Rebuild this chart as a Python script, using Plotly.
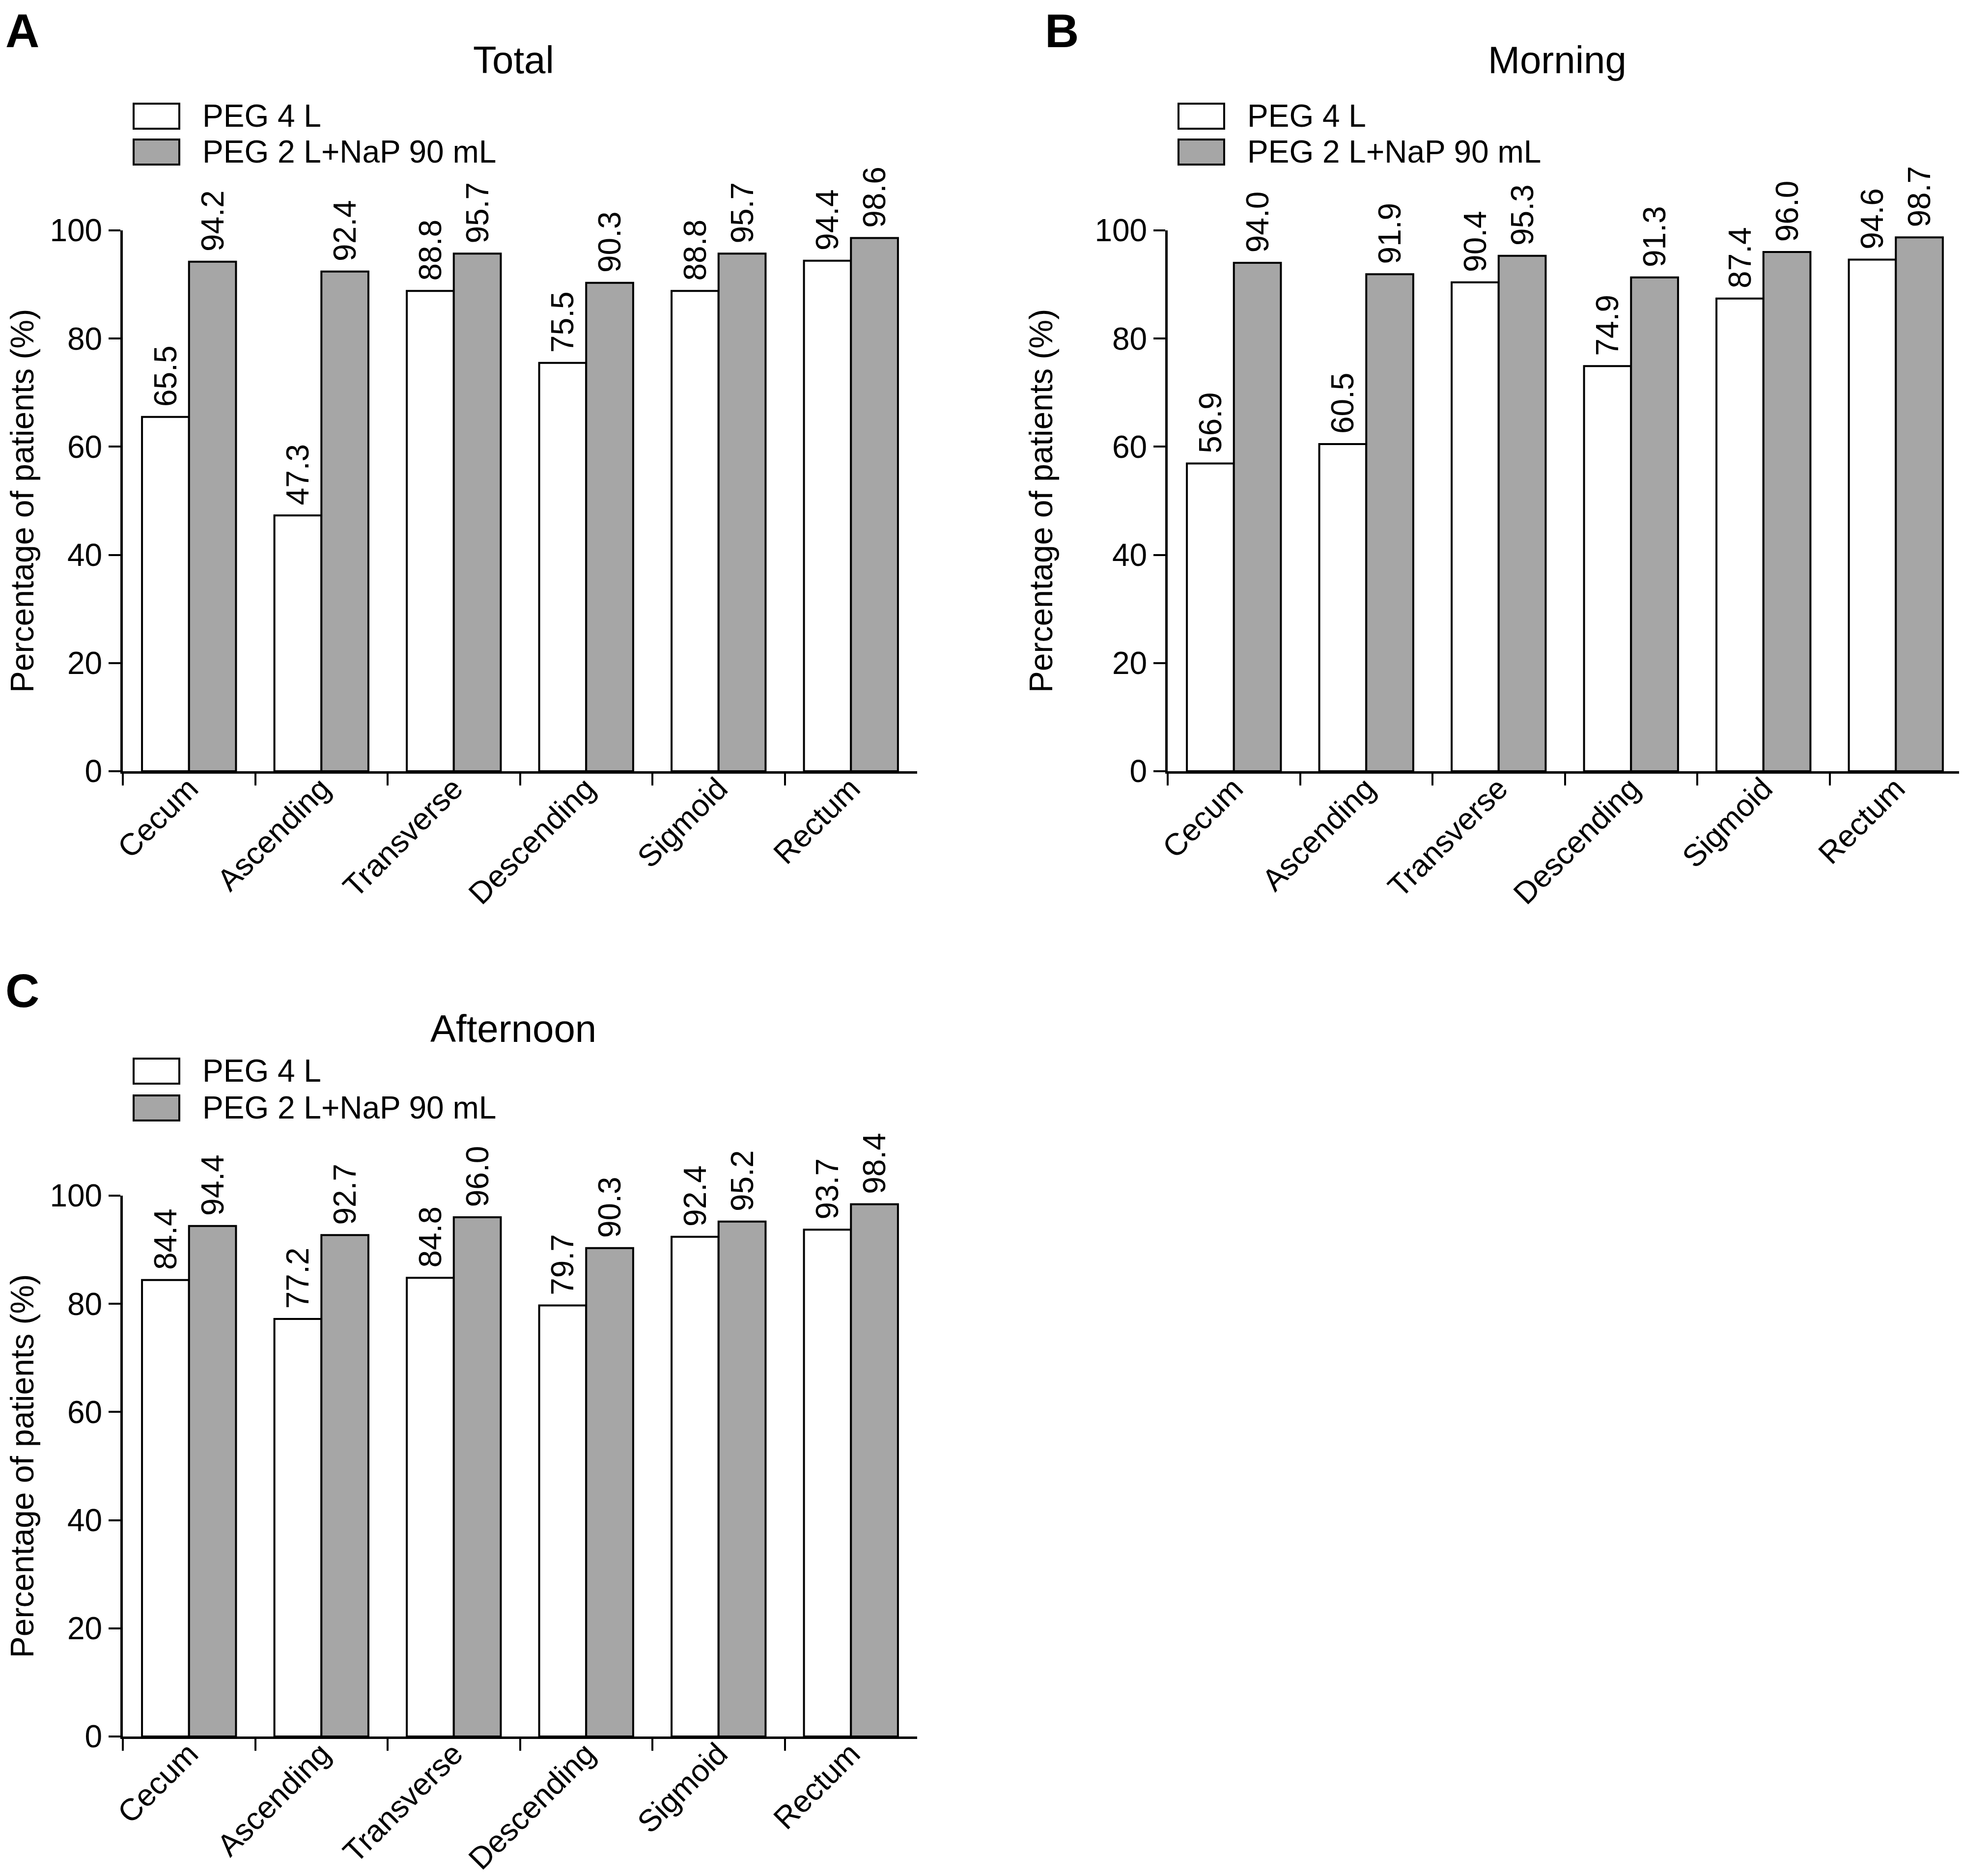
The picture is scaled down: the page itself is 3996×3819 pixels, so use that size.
import plotly.graph_objects as go

categories = ["Cecum", "Ascending", "Transverse", "Descending", "Sigmoid", "Rectum"]
series_names = ["PEG 4 L", "PEG 2 L+NaP 90 mL"]

total_peg4 = [65.5, 47.3, 88.8, 75.5, 88.8, 94.4]
total_combo = [94.2, 92.4, 95.7, 90.3, 95.7, 98.6]
morning_peg4 = [56.9, 60.5, 90.4, 74.9, 87.4, 94.6]
morning_combo = [94.0, 91.9, 95.3, 91.3, 96.0, 98.7]
afternoon_peg4 = [84.4, 77.2, 84.8, 79.7, 92.4, 93.7]
afternoon_combo = [94.4, 92.7, 96.0, 90.3, 95.2, 98.4]

panel_titles = ["Total", "Morning", "Afternoon"]
panel_letters = ["A", "B", "C"]
y_ticks = [0, 20, 40, 60, 80, 100]
y_title = "Percentage of patients (%)"

W, H = 3996, 3819
PAGE_OFFSET = 8  # default body margin of the html page
FONT = "Liberation Sans, Arial, sans-serif"
FS = 64
BAR_COLORS = ["#ffffff", "#a6a6a6"]


def px_x(v):
    return (v - PAGE_OFFSET) / W


def px_y(v):
    return 1 - (v - PAGE_OFFSET) / H


# panel placement in screen pixels: (left, right, top, bottom)
panels = [
    dict(box=(250, 1867, 469, 1570), legend_x=272, legend_y=(211, 284), title=(1045, 122), letter=(10, 8)),
    dict(box=(2377, 3994, 469, 1570), legend_x=2399, legend_y=(211, 284), title=(3170, 122), letter=(2126, 8)),
    dict(box=(250, 1867, 2434, 3535), legend_x=272, legend_y=(2155, 2230), title=(1045, 2094), letter=(10, 1962)),
]
data = [
    (total_peg4, total_combo),
    (morning_peg4, morning_combo),
    (afternoon_peg4, afternoon_combo),
]

fig = go.Figure()
shapes = []
annotations = []

for i, (p, vals) in enumerate(zip(panels, data)):
    n = "" if i == 0 else str(i + 1)
    xa, ya = "x" + n, "y" + n
    for name, v, col in zip(series_names, vals, BAR_COLORS):
        fig.add_trace(go.Bar(
            x=categories, y=v, name=name,
            xaxis=xa, yaxis=ya,
            marker=dict(color=col, line=dict(color="black", width=4)),
            # leading nbsp keeps a small gap between bar top and rotated label
            text=["\u00a0" + f"{t:.1f}" for t in v],
            textposition="outside", textangle=-90,
            textfont=dict(family=FONT, size=FS, color="black"),
            cliponaxis=False, constraintext="none",
            showlegend=False,
        ))

    l, r, t, b = p["box"]
    fig.update_layout(**{
        "xaxis" + n: dict(
            domain=[px_x(l), px_x(r)], anchor=ya,
            showline=True, linecolor="black", linewidth=5,
            ticks="outside", ticklen=24, tickwidth=4, tickcolor="black",
            tickson="boundaries", tickangle=-45, ticklabelstandoff=-32,
            tickfont=dict(family=FONT, size=63, color="black"),
            showgrid=False, zeroline=False, automargin=False,
        ),
        "yaxis" + n: dict(
            domain=[px_y(b), px_y(t)], anchor=xa,
            range=[0, 100], tickvals=y_ticks,
            showline=True, linecolor="black", linewidth=5,
            ticks="outside", ticklen=24, tickwidth=4, tickcolor="black",
            tickfont=dict(family=FONT, size=FS, color="black"),
            title=dict(text=y_title, font=dict(family=FONT, size=66, color="black"), standoff=66),
            showgrid=False, zeroline=False, automargin=False,
        ),
    })

    # panel title
    tx, ty = p["title"]
    annotations.append(dict(
        text=panel_titles[i], x=px_x(tx), y=px_y(ty),
        xref="paper", yref="paper", showarrow=False,
        xanchor="center", yanchor="middle",
        font=dict(family=FONT, size=78, color="black"),
    ))
    # panel letter
    lx, ly = p["letter"]
    annotations.append(dict(
        text="<b>" + panel_letters[i] + "</b>", x=px_x(lx), y=px_y(ly),
        xref="paper", yref="paper", showarrow=False,
        xanchor="left", yanchor="top", borderpad=0,
        font=dict(family="Liberation Sans Narrow, Arial Narrow, Liberation Sans, Arial", size=96, color="black"),
    ))
    # legend
    bx = p["legend_x"]
    for name, col, by in zip(series_names, BAR_COLORS, p["legend_y"]):
        shapes.append(dict(
            type="rect", xref="paper", yref="paper",
            x0=px_x(bx), x1=px_x(bx + 93), y0=px_y(by), y1=px_y(by + 51),
            fillcolor=col, line=dict(color="black", width=4),
        ))
        annotations.append(dict(
            text=name, x=px_x(bx + 138), y=px_y(by + 25),
            xref="paper", yref="paper", showarrow=False,
            xanchor="left", yanchor="middle",
            font=dict(family=FONT, size=FS, color="black"),
        ))

fig.update_layout(
    width=W, height=H,
    margin=dict(l=0, r=0, t=0, b=0),
    barmode="group", bargap=0.29, bargroupgap=0,
    plot_bgcolor="white", paper_bgcolor="white",
    shapes=shapes, annotations=annotations,
    font=dict(family=FONT, size=FS, color="black"),
)

fig.write_html("out.html")
